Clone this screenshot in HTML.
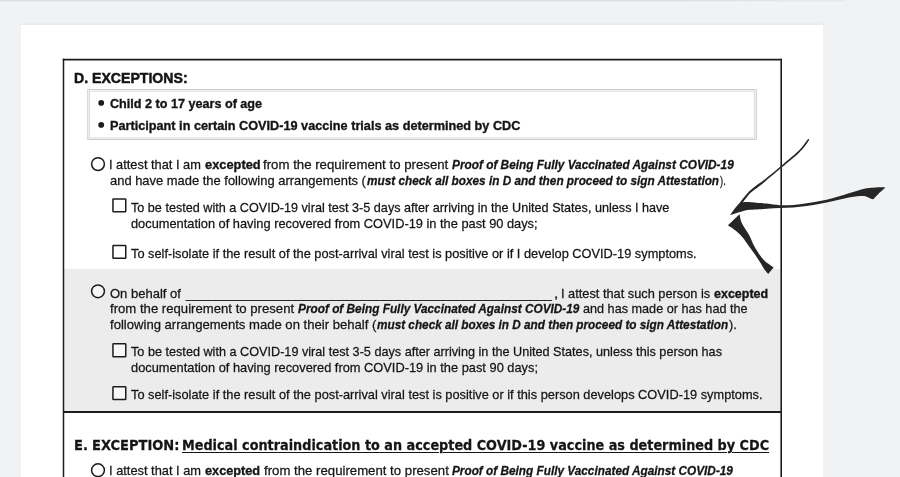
<!DOCTYPE html>
<html lang="en">
<head>
<meta charset="utf-8">
<title>Attestation form - Section D Exceptions</title>
<style>
html,body{margin:0;padding:0;}
body{width:900px;height:477px;overflow:hidden;position:relative;background:#f1f2f4;font-family:"Liberation Sans",sans-serif;color:#151515;}
.topbar{position:absolute;left:0;top:0;width:848px;height:5px;background:linear-gradient(#dadcde 0,#e2e3e5 1.1px,#f0f1f3 1.9px,#f4f5f6 3px,#f1f2f4 5px);-webkit-mask-image:linear-gradient(90deg,#000 0,#000 80%,rgba(0,0,0,0.5) 99.3%,transparent 100%);mask-image:linear-gradient(90deg,#000 0,#000 80%,rgba(0,0,0,0.5) 99.3%,transparent 100%);}
.page{position:absolute;left:20.8px;top:24.6px;width:802px;height:460px;background:#fff;}
.pshadow{position:absolute;left:20.8px;top:21.6px;width:802px;height:3px;background:linear-gradient(rgba(0,0,0,0),rgba(0,0,0,0.045));}
svg.shp{position:absolute;left:0;top:0;}
.ln{position:absolute;left:0;margin:0;padding:0;font-weight:normal;white-space:nowrap;}
.sg{position:absolute;top:0;white-space:nowrap;transform-origin:0 50%;-webkit-text-stroke:0.26px #151515;}
.b{font-weight:bold;-webkit-text-stroke-width:0.36px;}
.bi{font-weight:bold;font-style:italic;-webkit-text-stroke-width:0.3px;}
.u{text-decoration:underline;text-decoration-thickness:1.3px;text-underline-offset:2.4px;}
.dj{font-family:"DejaVu Sans","Liberation Sans",sans-serif;}
svg.ink{position:absolute;left:0;top:0;}

</style>
</head>
<body>
<div class="topbar"></div>
<div class="pshadow"></div>
<div class="page"></div>
<svg class="shp" width="900" height="477" viewBox="0 0 900 477" aria-hidden="true">
<rect x="64.2" y="269.0" width="716.2" height="142.2" fill="#ececec"/>
<g stroke="#1c1c1c" fill="none">
<line x1="63.5" y1="58.8" x2="63.5" y2="480" stroke-width="1.5"/>
<line x1="781.2" y1="58.8" x2="781.2" y2="480" stroke-width="1.6"/>
<line x1="62.75" y1="59.6" x2="782.00" y2="59.6" stroke-width="1.6"/>
<line x1="63.5" y1="412.0" x2="781.2" y2="412.0" stroke-width="1.9"/>
</g>
<rect x="87.8" y="89.5" width="668.5" height="50.0" fill="none" stroke="#cccccc" stroke-width="1"/>
<rect x="89.4" y="91.1" width="665.3" height="46.8" fill="none" stroke="#dadada" stroke-width="1.1"/>
<ellipse cx="101.2" cy="102.9" rx="2.90" ry="2.80" fill="#1c1c1c"/>
<ellipse cx="101.2" cy="124.9" rx="2.90" ry="2.80" fill="#1c1c1c"/>
<circle cx="98.0" cy="164.1" r="6.40" fill="#fff" stroke="#1c1c1c" stroke-width="1.5"/>
<circle cx="98.0" cy="291.3" r="6.40" fill="#f6f6f6" stroke="#1c1c1c" stroke-width="1.5"/>
<circle cx="98.0" cy="470.2" r="6.40" fill="#fff" stroke="#1c1c1c" stroke-width="1.5"/>
<rect x="112.95" y="198.90" width="12.80" height="12.80" rx="0.5" fill="#fff" stroke="#1c1c1c" stroke-width="1.5"/>
<rect x="112.95" y="245.55" width="12.80" height="12.80" rx="0.5" fill="#fff" stroke="#1c1c1c" stroke-width="1.5"/>
<rect x="112.95" y="343.85" width="12.80" height="12.90" rx="0.5" fill="#f8f8f8" stroke="#1c1c1c" stroke-width="1.5"/>
<rect x="112.95" y="386.65" width="12.80" height="12.90" rx="0.5" fill="#f8f8f8" stroke="#1c1c1c" stroke-width="1.5"/>
</svg>
<h2 class="ln" style="top:68.05px;font-size:15.3px;line-height:19.9px;height:19.9px"><span class="sg b" style="left:74.08px;transform:scaleX(0.9220);-webkit-text-stroke:0.5px #111;">D. EXCEPTIONS:</span></h2>
<p class="ln" style="top:95.04px;font-size:13.3px;line-height:17.3px;height:17.3px"><span class="sg b" style="left:110.00px;transform:scaleX(0.9484);">Child 2 to 17 years of age</span></p>
<p class="ln" style="top:117.04px;font-size:13.3px;line-height:17.3px;height:17.3px"><span class="sg b" style="left:110.00px;transform:scaleX(0.9543);">Participant in certain COVID-19 vaccine trials as determined by CDC</span></p>
<p class="ln" style="top:156.04px;font-size:13.3px;line-height:17.3px;height:17.3px"><span class="sg" style="left:109.04px;transform:scaleX(0.9633);">I attest that I am</span> <span class="sg b" style="left:205.20px;transform:scaleX(0.9648);">excepted</span> <span class="sg" style="left:263.00px;transform:scaleX(0.9949);">from the requirement to present</span> <span class="sg bi" style="left:452.30px;transform:scaleX(0.8895);">Proof of Being Fully Vaccinated Against COVID-19</span></p>
<p class="ln" style="top:172.04px;font-size:13.3px;line-height:17.3px;height:17.3px"><span class="sg" style="left:110.00px;transform:scaleX(0.9723);">and have made the following arrangements (</span><span class="sg bi" style="left:366.50px;transform:scaleX(0.8868);">must check all boxes in D and then proceed to sign Attestation</span><span class="sg" style="left:719.50px;transform:scaleX(0.7135);">).</span></p>
<p class="ln" style="top:199.04px;font-size:13.3px;line-height:17.3px;height:17.3px"><span class="sg" style="left:130.70px;transform:scaleX(0.9497);">To be tested with a COVID-19 viral test 3-5 days after arriving in the United States, unless I have</span></p>
<p class="ln" style="top:215.04px;font-size:13.3px;line-height:17.3px;height:17.3px"><span class="sg" style="left:130.70px;transform:scaleX(0.9634);">documentation of having recovered from COVID-19 in the past 90 days;</span></p>
<p class="ln" style="top:245.04px;font-size:13.3px;line-height:17.3px;height:17.3px"><span class="sg" style="left:130.70px;transform:scaleX(0.9616);">To self-isolate if the result of the post-arrival viral test is positive or if I develop COVID-19 symptoms.</span></p>
<p class="ln" style="top:285.04px;font-size:13.3px;line-height:17.3px;height:17.3px"><span class="sg" style="left:109.60px;transform:scaleX(0.9787);">On behalf of</span> <span class="sg" style="left:186.29px;transform:scaleX(0.9896);">__________________________________________________</span><span class="sg" style="left:554.25px;transform:scaleX(1.1500);">,</span> <span class="sg" style="left:560.94px;transform:scaleX(0.9614);">I attest that such person is</span> <span class="sg b" style="left:714.30px;transform:scaleX(0.9387);">excepted</span></p>
<p class="ln" style="top:300.04px;font-size:13.3px;line-height:17.3px;height:17.3px"><span class="sg" style="left:109.90px;transform:scaleX(0.9885);">from the requirement to present</span> <span class="sg bi" style="left:298.40px;transform:scaleX(0.8886);">Proof of Being Fully Vaccinated Against COVID-19</span> <span class="sg" style="left:582.70px;transform:scaleX(0.9514);">and has made or has had the</span></p>
<p class="ln" style="top:316.04px;font-size:13.3px;line-height:17.3px;height:17.3px"><span class="sg" style="left:109.90px;transform:scaleX(0.9845);">following arrangements made on their behalf (</span><span class="sg bi" style="left:376.50px;transform:scaleX(0.8846);">must check all boxes in D and then proceed to sign Attestation</span><span class="sg" style="left:728.60px;transform:scaleX(0.9558);">).</span></p>
<p class="ln" style="top:343.04px;font-size:13.3px;line-height:17.3px;height:17.3px"><span class="sg" style="left:130.70px;transform:scaleX(0.9519);">To be tested with a COVID-19 viral test 3-5 days after arriving in the United States, unless this person has</span></p>
<p class="ln" style="top:359.04px;font-size:13.3px;line-height:17.3px;height:17.3px"><span class="sg" style="left:130.70px;transform:scaleX(0.9643);">documentation of having recovered from COVID-19 in the past 90 days;</span></p>
<p class="ln" style="top:386.04px;font-size:13.3px;line-height:17.3px;height:17.3px"><span class="sg" style="left:130.70px;transform:scaleX(0.9624);">To self-isolate if the result of the post-arrival viral test is positive or if this person develops COVID-19 symptoms.</span></p>
<h2 class="ln dj" style="top:436.74px;font-size:13.6px;line-height:17.7px;height:17.7px"><span class="sg b" style="left:73.74px;transform:scaleX(0.9604);-webkit-text-stroke:0.26px #151515;">E.</span> <span class="sg b" style="left:91.54px;transform:scaleX(0.9587);-webkit-text-stroke:0.26px #151515;">EXCEPTION:</span> <span class="sg b u" style="left:181.76px;transform:scaleX(0.9426);-webkit-text-stroke:0.26px #151515;">Medical contraindication to an accepted COVID-19 vaccine as determined by CDC</span></h2>
<p class="ln" style="top:462.04px;font-size:13.3px;line-height:17.3px;height:17.3px"><span class="sg" style="left:108.53px;transform:scaleX(0.9654);">I attest that I am</span> <span class="sg b" style="left:204.60px;transform:scaleX(0.9561);">excepted</span> <span class="sg" style="left:263.50px;transform:scaleX(0.9922);">from the requirement to present</span> <span class="sg bi" style="left:452.30px;transform:scaleX(0.8870);">Proof of Being Fully Vaccinated Against COVID-19</span></p>
<svg class="ink" width="900" height="477" viewBox="0 0 900 477" aria-hidden="true">
<g fill="#262626" stroke="none">
<path d="M730.2 215.2 C730.2 215.2 732.6 211.5 734.2 209.3 C735.9 207.1 738.3 204.4 740.1 202.2 C741.9 200.0 743.4 197.8 745.1 195.9 C746.8 194.0 748.1 192.3 750.1 190.5 C752.1 188.7 754.6 186.8 756.9 185.0 C759.2 183.2 759.9 183.2 764.0 180.0 C768.1 176.8 775.9 170.3 781.4 165.7 C786.9 161.1 793.2 155.8 797.0 152.3 C800.8 148.8 802.1 146.8 804.0 144.5 C805.9 142.2 808.2 138.8 808.2 138.8 C808.2 138.8 809.3 139.8 809.3 139.8 C809.3 139.8 806.9 143.7 805.0 146.0 C803.1 148.3 801.8 150.2 798.0 153.7 C794.2 157.2 787.7 162.5 782.2 167.1 C776.7 171.7 769.2 178.1 765.2 181.4 C761.2 184.7 760.8 184.9 758.5 186.7 C756.2 188.5 753.2 190.6 751.2 192.3 C749.2 194.1 748.2 195.5 746.8 197.2 C745.4 198.8 743.0 202.2 743.0 202.2 C743.0 202.2 745.7 201.9 747.6 202.0 C749.5 202.1 751.1 202.2 754.3 202.5 C757.5 202.8 762.6 203.2 766.9 203.6 C771.2 204.0 775.6 205.0 780.0 205.2 C784.4 205.4 788.8 205.3 793.3 205.0 C797.8 204.7 802.2 204.0 806.7 203.3 C811.2 202.6 815.6 201.9 820.0 201.0 C824.4 200.1 828.8 199.1 833.3 197.9 C837.8 196.7 842.7 195.1 846.7 193.9 C850.7 192.7 854.0 191.6 857.3 190.7 C860.6 189.8 863.6 188.9 866.7 188.3 C869.8 187.8 873.0 187.6 876.0 187.4 C879.0 187.2 884.7 187.3 884.7 187.3 C884.7 187.3 884.9 187.9 884.9 187.9 C884.9 187.9 881.9 190.4 880.0 192.3 C878.1 194.2 873.3 199.3 873.3 199.3 C873.3 199.3 870.6 198.4 869.3 197.9 C868.0 197.4 866.8 196.6 865.3 196.3 C863.8 196.0 863.1 195.8 860.0 196.1 C856.9 196.4 851.2 197.1 846.7 197.9 C842.2 198.7 837.8 200.0 833.3 201.0 C828.8 202.0 824.4 202.9 820.0 203.7 C815.6 204.5 811.2 205.3 806.7 205.9 C802.2 206.5 797.8 207.1 793.3 207.4 C788.8 207.7 784.4 207.7 780.0 207.9 C775.6 208.1 771.2 208.4 766.9 208.7 C762.6 209.0 757.8 209.2 754.3 209.5 C750.8 209.8 748.5 209.8 746.0 210.3 C743.5 210.8 741.8 211.5 739.2 212.3 C736.6 213.1 730.2 215.2 730.2 215.2Z"/>
<path d="M739.6 214.2 C739.6 214.2 740.4 219.0 741.1 221.2 C741.8 223.3 742.7 224.8 744.0 227.1 C745.3 229.4 747.5 232.2 749.1 235.1 C750.7 238.0 751.9 241.6 753.5 244.7 C755.1 247.8 756.9 250.8 758.7 253.5 C760.5 256.2 762.5 258.9 764.5 260.8 C766.5 262.8 768.9 264.1 770.4 265.2 C771.9 266.3 773.6 267.4 773.6 267.4 C773.6 267.4 768.2 274.0 768.2 274.0 C768.2 274.0 765.9 271.6 764.5 269.6 C763.1 267.7 761.8 265.0 760.1 262.3 C758.4 259.6 756.2 256.3 754.3 253.5 C752.3 250.7 750.4 248.1 748.4 245.4 C746.4 242.7 744.5 239.6 742.5 237.3 C740.5 235.0 739.1 233.5 736.7 231.5 C734.3 229.5 727.9 225.3 727.9 225.3 C727.9 225.3 731.8 221.5 733.7 219.7 C735.7 217.8 739.6 214.2 739.6 214.2Z"/>
</g>
</svg>
</body>
</html>
